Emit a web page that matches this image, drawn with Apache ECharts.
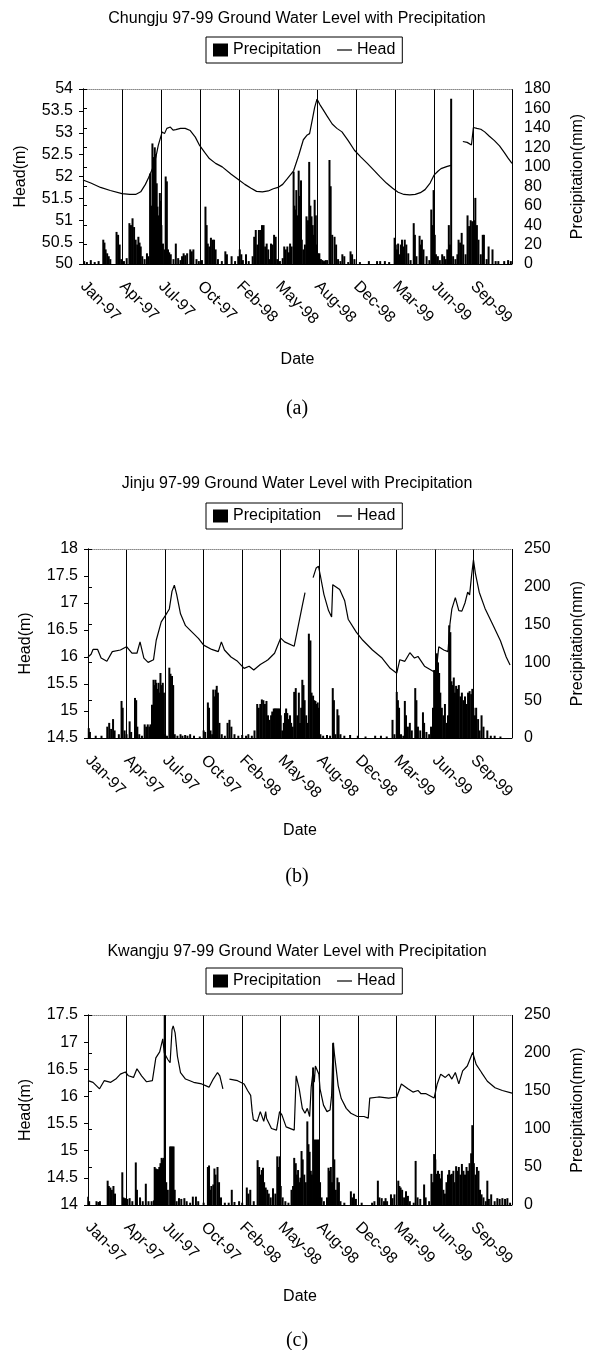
<!DOCTYPE html>
<html>
<head>
<meta charset="utf-8">
<script src="https://cdn.jsdelivr.net/npm/echarts@6/dist/echarts.min.js"></script>
<style>
  body { margin: 0; background: #fff; }
  .panel { position: absolute; left: 0; width: 594px; }
</style>
</head>
<body>
<div id="chart_a" class="panel" style="top:0px;height:450px"></div>
<div id="chart_b" class="panel" style="top:460px;height:440px"></div>
<div id="chart_c" class="panel" style="top:930px;height:420px"></div>
<script>
// tick labels every 100 days from 1 Jan 1997
var dateLabels = ['Jan-97','Apr-97','Jul-97','Oct-97','Feb-98','May-98','Aug-98','Dec-98','Mar-99','Jun-99','Sep-99'];

// [day, head m], null = gap in record
var chungjuHead = [[0,51.92],[20,51.85],[45,51.75],[70,51.68],[100,51.61],[120,51.59],[135,51.59],[148,51.65],[160,51.82],[168,51.97],[180,52.22],[187,52.45],[193,52.71],[203,53.02],[209,52.98],[215,53.1],[224,53.13],[231,53.06],[238,53.07],[250,53.1],[262,53.1],[275,53.05],[288,52.9],[299,52.71],[312,52.55],[324,52.41],[340,52.3],[357,52.22],[380,52.05],[400,51.92],[415,51.82],[431,51.73],[445,51.66],[460,51.65],[475,51.67],[488,51.72],[500,51.75],[512,51.82],[524,51.95],[540,52.13],[553,52.48],[565,52.84],[575,52.95],[581,52.98],[588,53.3],[594,53.58],[600,53.77],[607,53.65],[614,53.55],[626,53.38],[639,53.2],[651,53.1],[664,53.02],[680,52.82],[696,52.6],[712,52.45],[729,52.3],[745,52.15],[762,51.99],[778,51.85],[794,51.73],[808,51.64],[823,51.59],[838,51.58],[852,51.59],[865,51.63],[877,51.7],[890,51.85],[900,52.03],[910,52.12],[918,52.18],[934,52.23],[946,52.26],null,[974,52.8],[985,52.78],[996,52.72],[1001,53.12],[1010,53.1],[1020,53.08],[1030,53.02],[1042,52.92],[1055,52.82],[1068,52.7],[1080,52.55],[1090,52.42],[1100,52.3]];
// [day, mm]
var chungjuRain = [[3,3],[10,2],[20,4],[30,2],[40,3],[52,25],[55,22],[58,15],[62,11],[66,8],[70,5],[86,33],[90,30],[94,20],[98,5],[105,3],[112,6],[119,42],[123,40],[127,47],[131,38],[135,25],[139,20],[142,28],[145,22],[148,18],[152,8],[158,5],[164,11],[168,8],[172,93],[175,60],[178,124],[181,110],[184,120],[186,113],[189,83],[191,59],[193,50],[195,45],[197,73],[199,65],[201,40],[205,21],[209,15],[212,90],[215,85],[218,15],[221,12],[225,10],[232,5],[238,21],[244,6],[250,4],[254,8],[258,11],[262,9],[267,11],[275,15],[279,13],[283,15],[291,5],[297,3],[305,4],[314,59],[317,40],[320,21],[324,18],[328,27],[332,25],[336,25],[340,15],[346,5],[356,3],[365,13],[369,10],[381,8],[390,3],[398,8],[402,15],[406,10],[410,4],[418,10],[425,3],[435,8],[439,28],[443,35],[447,20],[451,35],[455,35],[459,40],[463,40],[467,18],[471,21],[475,15],[479,5],[482,21],[486,20],[490,30],[494,28],[498,5],[505,3],[512,6],[516,18],[520,15],[524,18],[528,12],[531,21],[535,18],[540,95],[542,60],[545,56],[547,76],[549,50],[553,96],[556,70],[559,86],[561,25],[565,15],[569,20],[573,49],[575,40],[577,45],[580,105],[583,60],[586,49],[589,40],[591,30],[594,66],[597,50],[600,20],[603,11],[606,11],[610,5],[614,4],[618,3],[622,4],[626,4],[632,107],[635,80],[639,30],[645,28],[649,20],[654,5],[660,3],[665,10],[670,8],[680,2],[686,13],[690,10],[696,5],[710,2],[733,3],[754,3],[762,3],[774,3],[785,2],[799,27],[802,20],[805,15],[808,21],[811,10],[815,20],[818,25],[821,18],[825,25],[829,20],[834,11],[840,4],[848,42],[851,30],[855,8],[863,29],[866,20],[869,25],[873,15],[881,8],[888,4],[893,56],[896,40],[899,76],[902,30],[905,10],[910,8],[915,4],[921,10],[926,8],[930,5],[934,15],[938,40],[941,20],[944,170],[949,8],[955,5],[960,10],[963,25],[967,22],[971,32],[975,20],[981,10],[986,50],[990,39],[994,45],[998,44],[1003,45],[1006,68],[1010,40],[1014,25],[1020,10],[1025,30],[1028,30],[1035,5],[1040,18],[1050,15],[1058,3],[1065,3],[1080,3],[1090,4],[1097,3]];

var jinjuHead = [[0,16.0],[8,16.05],[13,16.14],[25,16.14],[34,15.98],[49,15.92],[63,16.1],[84,16.13],[100,16.19],[114,16.07],[127,16.07],[135,16.28],[145,15.98],[156,15.9],[170,15.95],[177,16.31],[190,16.65],[201,16.77],[211,16.89],[218,17.22],[224,17.33],[230,17.16],[240,16.8],[253,16.58],[270,16.46],[287,16.34],[300,16.22],[321,16.14],[338,16.1],[346,16.28],[354,16.13],[371,16.0],[388,15.92],[405,15.79],[418,15.83],[430,15.76],[447,15.86],[461,15.92],[467,15.95],[484,16.07],[500,16.35],[510,16.28],[535,16.2],[543,16.49],[556,16.95],[563,17.19],null,[577,17.22],null,[584,17.47],[592,17.65],[598,17.68],[603,17.5],[612,17.16],[624,16.86],[632,16.74],[635,17.34],[640,17.31],[653,17.25],[666,17.04],[675,16.7],[696,16.46],[713,16.31],[738,16.13],[763,15.98],[784,15.79],[801,15.7],[809,15.95],[822,15.92],[835,16.08],[847,15.98],[856,16.01],[873,15.83],[894,15.74],[903,15.7],[910,16.19],[923,16.13],[934,16.1],[939,16.61],[944,16.89],[953,17.1],[962,16.86],[970,16.85],[978,17.0],[985,17.2],[990,17.15],[995,17.5],[1000,17.8],[1005,17.55],[1015,17.2],[1030,16.9],[1050,16.6],[1070,16.3],[1085,16.0],[1095,15.85]];
var jinjuRain = [[2,13],[5,8],[20,3],[35,3],[50,15],[55,20],[60,12],[65,25],[69,10],[80,5],[87,49],[90,40],[95,10],[100,5],[108,22],[112,8],[122,53],[125,50],[128,15],[133,5],[140,3],[147,18],[151,15],[155,18],[159,15],[162,18],[166,44],[170,77],[173,70],[175,77],[177,73],[180,65],[183,73],[186,60],[188,86],[191,70],[194,73],[197,60],[200,5],[205,3],[211,93],[214,85],[218,82],[221,70],[225,5],[232,3],[240,5],[245,3],[252,4],[258,3],[265,5],[275,3],[290,2],[300,10],[304,8],[311,47],[314,40],[318,10],[322,5],[325,64],[328,55],[331,64],[334,69],[337,60],[341,20],[347,5],[355,3],[362,20],[367,24],[372,15],[380,5],[390,3],[400,4],[410,3],[416,5],[425,3],[432,10],[439,45],[443,40],[447,45],[451,51],[455,50],[459,45],[463,49],[467,30],[471,24],[475,30],[478,35],[482,39],[485,39],[488,39],[491,39],[494,39],[497,39],[500,30],[504,10],[508,20],[511,33],[514,39],[517,33],[520,25],[524,30],[527,20],[531,15],[535,61],[539,66],[543,30],[547,60],[550,20],[553,40],[556,77],[559,70],[562,50],[566,30],[570,20],[573,138],[577,129],[580,60],[584,56],[587,50],[590,49],[593,45],[596,47],[599,40],[603,5],[610,3],[620,4],[628,3],[635,66],[638,50],[642,5],[647,38],[650,30],[655,5],[665,3],[680,4],[700,3],[720,2],[745,3],[760,3],[775,2],[790,24],[795,5],[801,61],[804,50],[807,40],[812,5],[818,3],[822,49],[825,30],[830,15],[835,20],[840,10],[849,66],[852,50],[856,15],[862,10],[869,34],[872,20],[878,8],[885,5],[890,15],[895,40],[898,90],[901,70],[905,112],[908,100],[911,86],[914,60],[918,40],[922,30],[926,45],[930,20],[934,30],[937,149],[940,140],[943,75],[946,70],[949,80],[952,60],[955,69],[958,65],[962,70],[966,55],[970,60],[974,50],[978,55],[982,45],[986,60],[990,62],[994,58],[997,65],[1000,40],[1004,30],[1007,40],[1012,25],[1016,10],[1021,30],[1026,15],[1036,10],[1045,3],[1055,3],[1070,2]];

var kwangjuHead = [[0,16.29],[13,16.26],[30,16.14],[42,16.29],[59,16.26],[72,16.32],[84,16.41],[97,16.45],[105,16.38],[118,16.35],[127,16.51],[139,16.38],[152,16.27],[167,16.29],[176,16.71],[186,16.82],[194,17.06],[198,16.8],[203,16.83],[207,16.68],[213,16.62],[218,17.23],[221,17.3],[226,17.17],[232,16.74],[240,16.44],[253,16.32],[274,16.26],[295,16.23],[308,16.19],[314,16.17],[325,16.32],[336,16.44],[342,16.38],[350,16.14],null,[367,16.32],[388,16.29],[405,16.23],[414,16.11],[422,16.02],[426,15.72],[429,15.57],[439,15.54],[447,15.72],[456,15.54],[461,15.72],[463,15.6],[476,15.41],[489,15.38],[497,15.72],[503,15.66],[514,15.44],[535,15.38],[540,16.38],[548,16.14],[556,15.78],[563,15.69],[569,15.78],[575,15.63],[579,16.17],[584,16.47],[587,16.26],[590,16.56],[594,16.59],[599,16.41],[602,16.14],[611,15.84],[620,15.72],[628,15.75],[632,16.02],[636,16.99],[640,16.74],[649,16.2],[657,15.96],[670,15.78],[682,15.69],[699,15.63],[716,15.63],[727,15.6],[731,15.97],[754,15.99],[780,15.97],[801,15.99],[813,16.23],[830,16.14],[843,16.08],[856,16.11],[864,16.05],[877,16.05],[898,15.97],[906,16.23],[915,16.41],[927,16.35],[936,16.41],[944,16.32],[953,16.44],[962,16.23],[972,16.47],[984,16.56],[998,16.81],[1007,16.59],[1021,16.44],[1036,16.28],[1056,16.16],[1075,16.11],[1100,16.06]];
var kwangjuRain = [[0,11],[3,5],[22,5],[27,4],[31,5],[51,32],[54,25],[58,23],[62,20],[66,25],[70,15],[89,43],[92,10],[96,9],[102,8],[108,9],[115,5],[124,56],[127,20],[135,10],[142,5],[150,28],[157,5],[165,5],[171,6],[173,50],[176,48],[179,47],[182,47],[185,50],[188,55],[191,62],[194,60],[196,62],[199,260],[203,30],[207,20],[213,77],[216,77],[219,77],[222,77],[225,20],[230,5],[236,9],[242,8],[250,9],[256,5],[265,3],[272,11],[280,11],[286,5],[300,3],[311,50],[314,52],[317,20],[320,25],[325,27],[328,48],[331,40],[336,50],[340,30],[345,10],[355,3],[365,3],[373,20],[380,4],[392,5],[400,3],[412,23],[416,15],[421,20],[430,5],[440,59],[444,50],[447,40],[451,46],[454,49],[457,30],[461,23],[465,20],[469,15],[474,10],[480,22],[486,15],[491,64],[494,50],[497,64],[500,25],[505,10],[512,5],[520,3],[528,20],[532,25],[535,62],[539,55],[542,40],[545,46],[548,30],[551,36],[554,71],[557,60],[561,40],[565,30],[569,110],[572,80],[575,70],[578,45],[581,40],[584,181],[587,86],[590,86],[593,86],[596,86],[599,86],[602,30],[606,10],[612,5],[620,10],[624,49],[627,45],[630,50],[633,30],[636,213],[639,60],[643,20],[647,36],[651,30],[655,5],[665,3],[682,18],[686,10],[690,15],[695,8],[710,3],[737,3],[743,5],[752,32],[756,10],[762,9],[768,5],[772,9],[776,5],[786,14],[790,9],[795,14],[805,32],[808,25],[811,23],[815,20],[820,10],[825,18],[830,12],[835,5],[845,3],[850,58],[855,10],[862,8],[872,27],[876,10],[885,5],[891,41],[895,30],[898,67],[901,60],[905,41],[908,45],[911,41],[914,35],[918,45],[922,20],[926,15],[930,30],[934,40],[937,46],[940,40],[944,41],[948,45],[951,30],[955,51],[958,45],[962,50],[966,40],[970,54],[974,45],[978,40],[982,50],[986,45],[990,55],[994,68],[997,105],[1001,55],[1005,40],[1009,50],[1013,45],[1017,20],[1021,14],[1026,10],[1032,5],[1036,32],[1040,8],[1046,14],[1055,5],[1062,9],[1068,8],[1075,9],[1082,8],[1088,9],[1095,3]];

var FONT = 'Liberation Sans';

function drawPanel(domId, cfg){
	var myChart = echarts.init(document.getElementById(domId));
	var labelStyle = {color:'#000', fontFamily:FONT, fontSize:16};
	var option = {
		animation: false,
		title: [
			{
				text: cfg.title,
				left: 'center',
				top: cfg.titleTop,
				textStyle: {color:'#000', fontFamily:FONT, fontSize:16, fontWeight:'normal'}
			},
			{
				text: cfg.caption,
				left: 'center',
				top: cfg.captionTop,
				textStyle: {color:'#000', fontFamily:'Liberation Serif', fontSize:20, fontWeight:'normal'}
			}
		],
		legend: {
			left: 206,
			top: cfg.legendTop,
			borderColor: '#000',
			borderWidth: 1,
			padding: [5, 7, 5, 7],
			itemGap: 16,
			itemWidth: 15,
			itemHeight: 13,
			symbolKeepAspect: true,
			textStyle: {color:'#000', fontFamily:FONT, fontSize:16},
			data: [
				{name:'Precipitation', icon:'rect'},
				{name:'Head', icon:'path://M0,0 H20 V1.6 H0 Z'}
			]
		},
		grid: {left: cfg.left, right: cfg.right, top: cfg.top, height: cfg.height},
		xAxis: [
			{
				type: 'value',
				min: 0,
				max: 1100,
				interval: 100,
				name: 'Date',
				nameLocation: 'middle',
				nameGap: cfg.dateGap,
				nameTextStyle: labelStyle,
				axisLine: {lineStyle: {color:'#000', width:1}},
				axisTick: {show: false},
				splitLine: {show: true, lineStyle: {color:'#000', width:1}},
				axisLabel: {
					rotate: -45,
					margin: 20,
					color: '#000',
					fontFamily: FONT,
					fontSize: 16,
					showMaxLabel: false,
					formatter: function(v){ return dateLabels[v / 100] || ''; }
				}
			},
			{
				type: 'value',
				position: 'top',
				min: 0,
				max: 1100,
				axisLine: {lineStyle: {color:'#888', type:'dotted', width:1}},
				axisTick: {show: false},
				axisLabel: {show: false},
				splitLine: {show: false}
			}
		],
		yAxis: [
			{
				type: 'value',
				min: cfg.headMin,
				max: cfg.headMax,
				interval: 0.5,
				name: 'Head(m)',
				nameLocation: 'middle',
				nameRotate: 90,
				nameGap: 54,
				nameTextStyle: labelStyle,
				axisLine: {show: true, lineStyle: {color:'#000'}},
				axisTick: {show: true, length: 4, lineStyle: {color:'#000'}},
				axisLabel: {color:'#000', fontFamily:FONT, fontSize:16, margin:10},
				splitLine: {show: false}
			},
			{
				type: 'value',
				min: 0,
				max: cfg.rainMax,
				interval: cfg.rainStep,
				name: 'Precipitation(mm)',
				nameLocation: 'middle',
				nameRotate: 90,
				nameGap: 58,
				nameTextStyle: labelStyle,
				axisLine: {show: true, lineStyle: {color:'#000'}},
				axisTick: {show: true, length: 4, lineStyle: {color:'#000'}},
				axisLabel: {color:'#000', fontFamily:FONT, fontSize:16, margin:12},
				splitLine: {show: false}
			}
		],
		series: [
			{
				name: 'Precipitation',
				type: 'bar',
				xAxisIndex: 0,
				yAxisIndex: 1,
				barWidth: 2,
				clip: true,
				itemStyle: {color:'#000'},
				data: cfg.rain
			},
			{
				name: 'Head',
				type: 'line',
				xAxisIndex: 0,
				yAxisIndex: 0,
				symbol: 'none',
				connectNulls: false,
				lineStyle: {color:'#000', width:1.2},
				itemStyle: {color:'#000'},
				data: cfg.head
			}
		]
	};
	myChart.setOption(option);
}

drawPanel('chart_a', {
	title: 'Chungju 97-99 Ground Water Level with Precipitation',
	caption: '(a)', titleTop: 6, legendTop: 37, captionTop: 394,
	left: 83, right: 65, top: 89, height: 175, dateGap: 88,
	headMin: 50, headMax: 54, rainMax: 180, rainStep: 20,
	head: chungjuHead, rain: chungjuRain
});
drawPanel('chart_b', {
	title: 'Jinju 97-99 Ground Water Level with Precipitation',
	caption: '(b)', titleTop: 11, legendTop: 43, captionTop: 402,
	left: 88, right: 71, top: 89, height: 189, dateGap: 85,
	headMin: 14.5, headMax: 18, rainMax: 250, rainStep: 50,
	head: jinjuHead, rain: jinjuRain
});
drawPanel('chart_c', {
	title: 'Kwangju 97-99 Ground Water Level with Precipitation',
	caption: '(c)', titleTop: 9, legendTop: 38, captionTop: 396,
	left: 88, right: 71, top: 85, height: 190, dateGap: 84,
	headMin: 14, headMax: 17.5, rainMax: 250, rainStep: 50,
	head: kwangjuHead, rain: kwangjuRain
});
</script>
</body>
</html>
